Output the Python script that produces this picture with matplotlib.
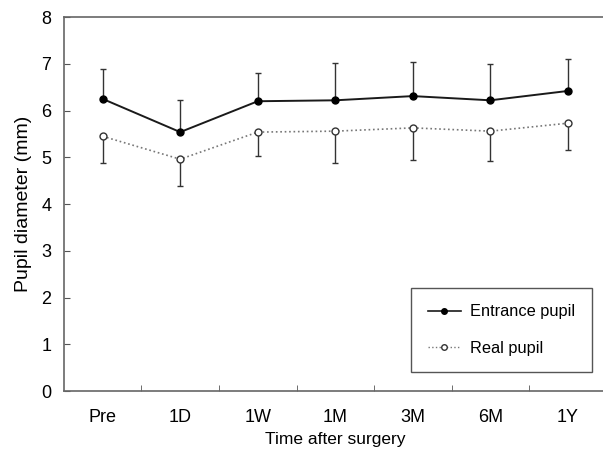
import numpy as np
import matplotlib.pyplot as plt
from matplotlib.lines import Line2D

plt.rcParams['font.family'] = ['Liberation Sans', 'DejaVu Sans']

# data
times = ['Pre', '1D', '1W', '1M', '3M', '6M', '1Y']
entrance = [6.25, 5.54, 6.20, 6.22, 6.31, 6.22, 6.42]
entrance_sd = [0.64, 0.68, 0.60, 0.80, 0.73, 0.77, 0.68]
real = [5.45, 4.96, 5.54, 5.56, 5.63, 5.56, 5.73]
real_sd = [0.57, 0.57, 0.51, 0.68, 0.69, 0.64, 0.58]

x = np.arange(len(times))
zeros = np.zeros(len(times))

fig = plt.figure(figsize=(6.03, 4.5), dpi=100)
ax = fig.add_axes([0.106, 0.131, 0.9, 0.831])

# entrance pupil: error bars upward only
ax.errorbar(x, entrance, yerr=[zeros, entrance_sd], color='#1a1a1a', lw=1.4,
            marker='o', ms=5, mfc='black', mec='black', ecolor='#333333',
            elinewidth=1, capsize=2.5, capthick=1)
# real pupil: error bars downward only
ax.errorbar(x, real, yerr=[real_sd, zeros], color='#777777', lw=1.2, ls=':',
            marker='o', ms=5, mfc='white', mec='#333333', mew=1, ecolor='#333333',
            elinewidth=1, capsize=2.5, capthick=1)

ax.set_xlim(-0.5, 6.5)
ax.set_ylim(0, 8)
ax.set_xticks(x)
ax.set_xticklabels(times)
ax.set_xticks(np.arange(0.5, 6.5, 1), minor=True)
ax.tick_params(axis='x', which='major', length=0, labelsize=13, pad=13)
ax.tick_params(axis='x', which='minor', direction='in', length=4, color='#555555')
ax.tick_params(axis='y', direction='in', length=4, labelsize=13, color='#555555', pad=9)
ax.set_yticks(range(0, 9))

for s in ax.spines.values():
    s.set_color('#666666')
    s.set_linewidth(1.2)

ax.set_xlabel('Time after surgery', fontsize=12.5, labelpad=4)
ax.set_ylabel('Pupil diameter (mm)', fontsize=14, labelpad=7)

handles = [
    Line2D([], [], color='#1a1a1a', lw=1.2, marker='o', ms=4, mfc='black', mec='black'),
    Line2D([], [], color='#777777', lw=1.0, ls=':', marker='o', ms=4, mfc='white', mec='#333333'),
]
leg = ax.legend(handles, ['Entrance pupil', 'Real pupil'], loc='lower right',
                bbox_to_anchor=(0.973, 0.051), borderaxespad=0, fontsize=11.8,
                fancybox=False, edgecolor='#555555', framealpha=1,
                borderpad=1.0, labelspacing=1.3, handlelength=2.0, handletextpad=0.6)
leg.get_frame().set_linewidth(1)

fig.savefig('out.png', dpi=100)
